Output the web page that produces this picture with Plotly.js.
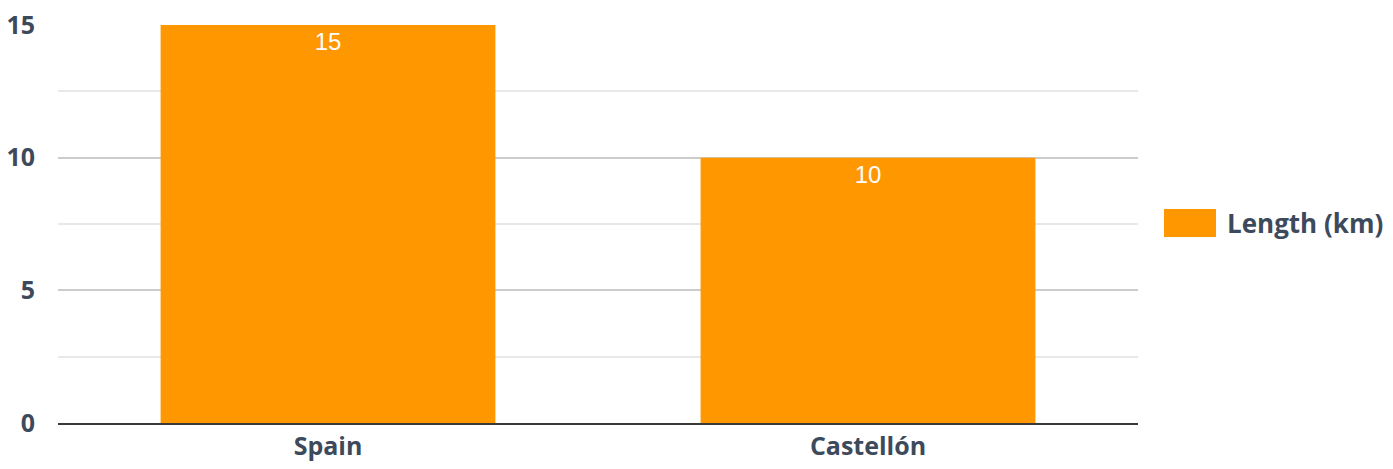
<!DOCTYPE html>
<html>
<head>
<meta charset="utf-8">
<script src="https://cdn.plot.ly/plotly-3.0.1.min.js"></script>
<style>html,body{margin:0;padding:0;background:#fff;}#chart{width:1393px;height:469px;}</style>
</head>
<body>
<div id="chart"></div>
<script>
const categories = ["Spain", "Castellón"];
const lengthKm = [15, 10];
const seriesName = "Length (km)";
const yTicks = [0, 5, 10, 15];

const barColor = "#ff9800";
const textColor = "#3d4a5c";

const trace = {
  type: "bar",
  x: categories,
  y: lengthKm,
  name: seriesName,
  marker: {color: barColor},
  text: lengthKm.map(String),
  textposition: "inside",
  insidetextanchor: "end",
  textfont: {family: "Liberation Sans, Arial, sans-serif", size: 24, color: "#ffffff"},
  hoverinfo: "x+y",
  showlegend: false
};

const layout = {
  width: 1393,
  height: 469,
  margin: {l: 58, r: 255, t: 25, b: 46},
  paper_bgcolor: "#ffffff",
  plot_bgcolor: "#ffffff",
  bargap: 0.38,
  showlegend: false,
  font: {family: "Open Sans, sans-serif", color: textColor},
  xaxis: {
    type: "category",
    showgrid: false,
    showline: true,
    linecolor: "#3a3a3a",
    linewidth: 2,
    ticks: "",
    tickfont: {family: "Open Sans, sans-serif", size: 25, color: textColor, weight: "bold"},
    ticklabelstandoff: 0
  },
  yaxis: {
    range: [0, 15],
    tickvals: yTicks,
    ticktext: yTicks.map(String),
    showgrid: true,
    gridcolor: "#cccccc",
    gridwidth: 2,
    zeroline: false,
    showline: false,
    ticks: "",
    tickfont: {family: "Open Sans, sans-serif", size: 25, color: textColor, weight: "bold"},
    ticklabelstandoff: 22,
    minor: {dtick: 2.5, tick0: 0, showgrid: true, gridcolor: "#e8e8e8", gridwidth: 2, ticks: ""}
  },
  shapes: [{
    type: "rect", xref: "paper", yref: "paper",
    x0: (1164 - 58) / 1080, x1: (1216 - 58) / 1080,
    y0: (423 - 237) / 398, y1: (423 - 209) / 398,
    fillcolor: barColor, line: {width: 0}
  }],
  annotations: [{
    xref: "paper", yref: "paper",
    x: (1225 - 58) / 1080, y: (423 - 223) / 398,
    xanchor: "left", yanchor: "middle",
    text: "<b>" + seriesName + "</b>",
    showarrow: false,
    font: {family: "Open Sans, sans-serif", size: 26, color: textColor}
  }]
};

Plotly.newPlot("chart", [trace], layout, {displayModeBar: false, staticPlot: true});
</script>
</body>
</html>
